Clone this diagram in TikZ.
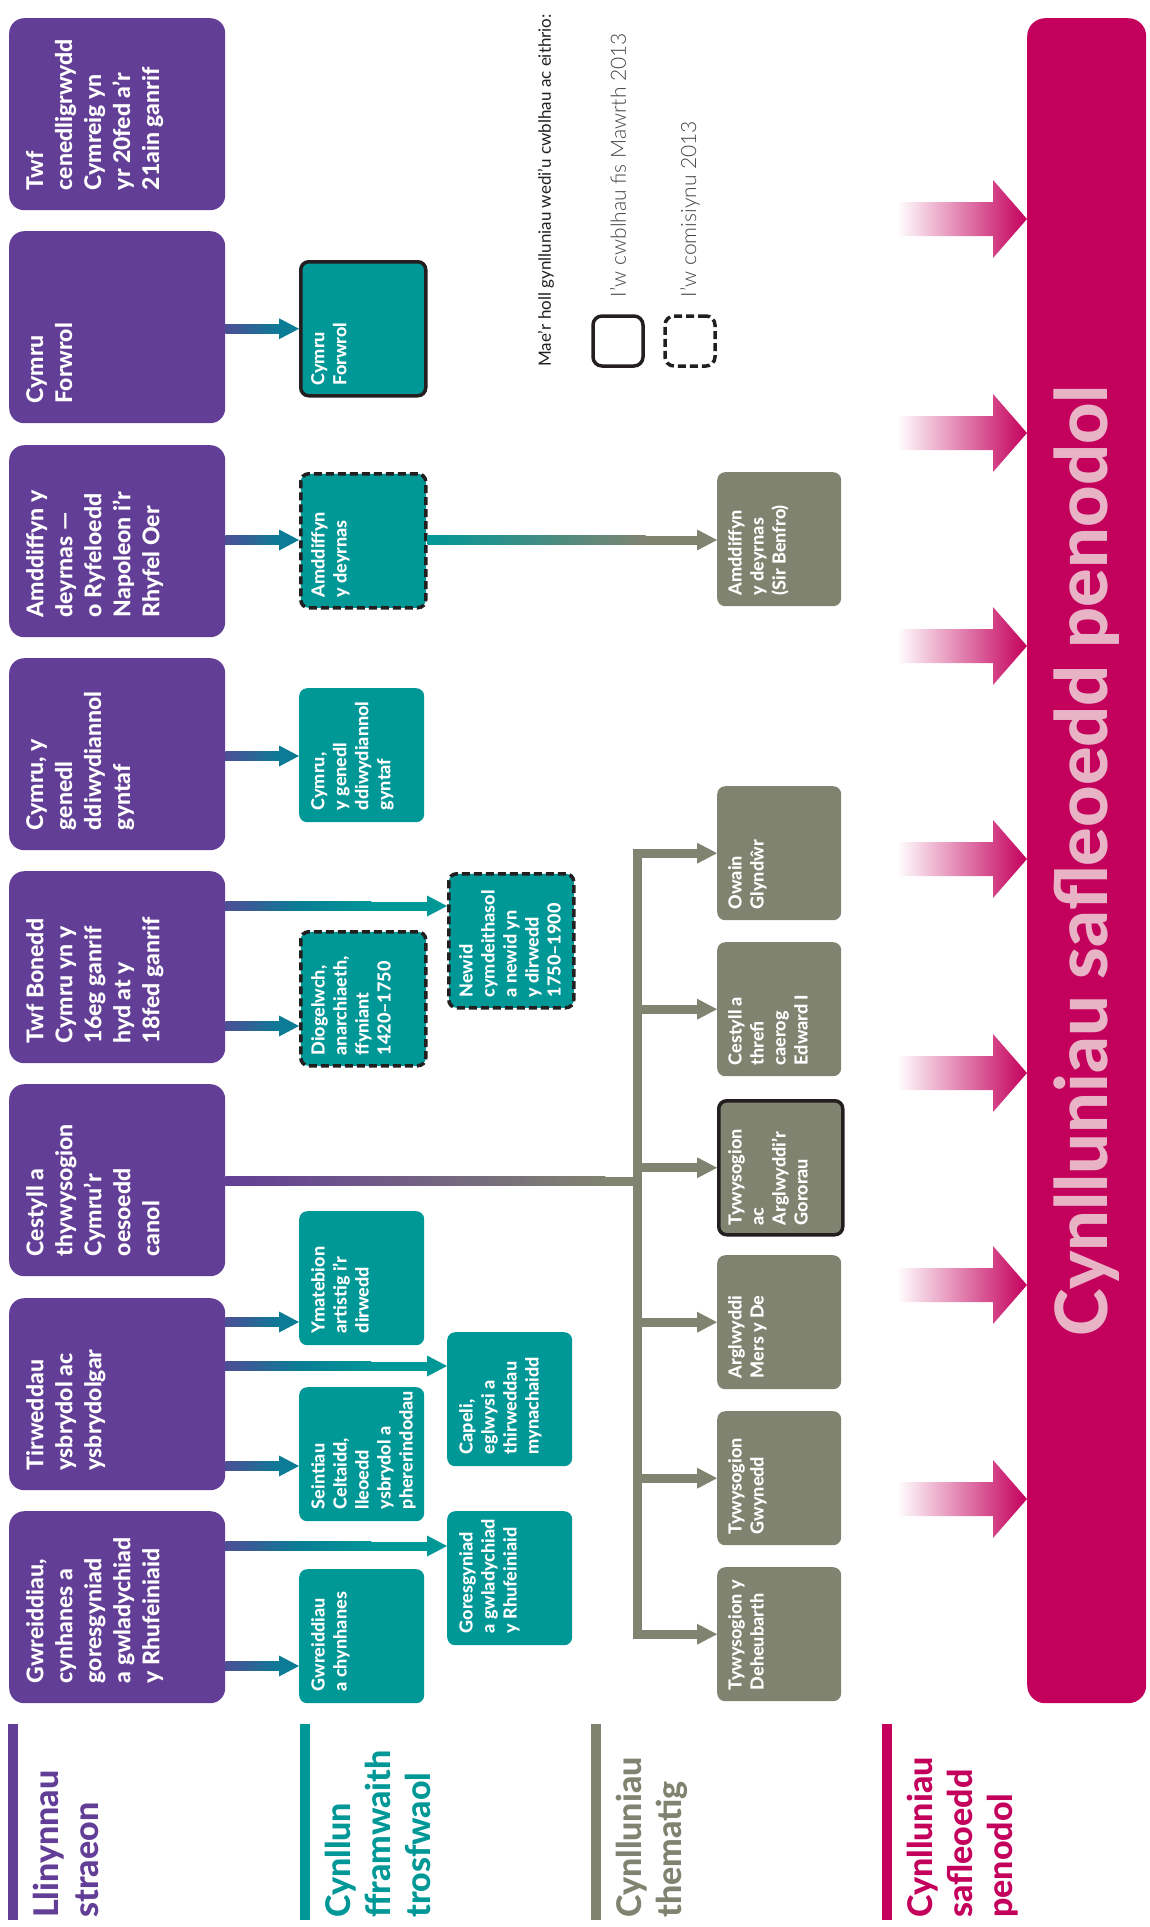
\documentclass[tikz,border=0pt]{standalone}
\usepackage{fontspec}
\setmainfont{Lato}[BoldFont={Lato Heavy}]
\newfontfamily\lightfont{Lato Light}
\usetikzlibrary{arrows.meta,calc}

\definecolor{strandcol}{HTML}{633E96}
\definecolor{framecol}{HTML}{009797}
\definecolor{linkblue}{HTML}{0B7C96}
\definecolor{themecol}{HTML}{808370}
\definecolor{sitecol}{HTML}{C4005D}
\definecolor{sitepale}{HTML}{E9B3C6}
\definecolor{ink}{HTML}{231F20}

\tikzset{
	storybox/.style={fill=strandcol, rounded corners=15pt, inner sep=0pt, minimum width=216pt, minimum height=192pt, anchor=north west},
	framebox/.style={fill=framecol, rounded corners=8pt, inner sep=0pt, minimum width=125pt, minimum height=134pt, anchor=north west},
	themebox/.style={fill=themecol, rounded corners=8pt, inner sep=0pt, minimum width=124pt, minimum height=134pt, anchor=north west},
	plainbox/.style={},
	donebox/.style={draw=ink, line width=3.5pt},
	todobox/.style={draw=ink, line width=3.5pt, dash pattern=on 8pt off 4pt},
	boxtext/.style={rotate=90, anchor=north west, align=left, inner sep=0pt, text=white, font=\bfseries\fontsize{18}{22}\selectfont},
	storytext/.style={boxtext, font=\bfseries\fontsize{23}{29}\selectfont},
	keytext/.style={rotate=90, anchor=north west, align=left, inner sep=0pt, font=\bfseries\fontsize{34}{40}\selectfont},
	headtip/.style={-{Triangle[length=20pt,width=21pt,line width=0pt]}},
	shortfade/.style={left color=strandcol!75!linkblue, right color=linkblue},
	longfade/.style={left color=strandcol!75!linkblue, right color=framecol, middle color=linkblue},
	themefade/.style={left color=framecol, right color=themecol},
}

\newcommand{\fadelink}[5]{%
	\draw[line width=9pt, #5, headtip] (#1) -- (#2);
	\shade[#4] ($(#1)+(0,-4.5)$) rectangle ($(#1)+(#3,4.5)$);
}

\begin{document}
\begin{tikzpicture}[x=1pt, y=-1pt]
	\useasboundingbox (0,0) rectangle (1149,1927);

	% story strands
	\foreach \n/\y/\txt in {p1/18/{Twf\\cenedligrwydd\\Cymreig yn\\yr 20fed a’r\\21ain ganrif},
			p2/231/{Cymru\\Forwrol},
			p3/445/{Amddiffyn y\\deyrnas —\\o Ryfeloedd\\Napoleon i’r\\Rhyfel Oer},
			p4/658/{Cymru, y\\genedl\\ddiwydiannol\\gyntaf},
			p5/871/{Twf Bonedd\\Cymru yn y\\16eg ganrif\\hyd at y\\18fed ganrif},
			p6/1084/{Cestyll a\\thywysogion\\Cymru’r\\oesoedd\\canol},
			p7/1298/{Tirweddau\\ysbrydol ac\\ysbrydolgar},
			p8/1511/{Gwreiddiau,\\cynhanes a\\goresgyniad\\a gwladychiad\\y Rhufeiniaid}}{
		\node[storybox] (\n) at (9,\y) {};
		\node[storytext] (\n-txt) at ([xshift=17pt,yshift=20pt]\n.south west) {\txt};
	}

	% overarching framework
	\foreach \n/\x/\y/\s/\txt in {t1/299/260/donebox/{Cymru\\Forwrol},
			t2/299/472/todobox/{Amddiffyn\\y deyrnas},
			t3/299/688/plainbox/{Cymru,\\y genedl\\ddiwydiannol\\gyntaf},
			t4/299/930/todobox/{Diogelwch,\\anarchiaeth,\\ffyniant\\1420–1750},
			t5/447/872/todobox/{Newid\\cymdeithasol\\a newid yn\\y dirwedd\\1750–1900},
			t6/299/1211/plainbox/{Ymatebion\\artistig i’r\\dirwedd},
			t7/447/1332/plainbox/{Capeli,\\eglwysi a\\thirweddau\\mynachaidd},
			t8/299/1387/plainbox/{Seintiau\\Celtaidd,\\lleoedd\\ysbrydol a\\phererindodau},
			t9/447/1511/plainbox/{Goresgyniad\\a gwladychiad\\y Rhufeiniaid},
			t10/299/1569/plainbox/{Gwreiddiau\\a chynhanes}}{
		\node[framebox,\s] (\n) at (\x,\y) {};
		\node[boxtext] (\n-txt) at ([xshift=12pt,yshift=12pt]\n.south west) {\txt};
	}

	% thematic plans
	\foreach \n/\y/\s/\txt in {g0/472/plainbox/{Amddiffyn\\y deyrnas\\(Sir Benfro)},
			g1/786/plainbox/{Owain\\Glyndŵr},
			g2/942/plainbox/{Cestyll a\\threfi\\caerog\\Edward I},
			g3/1099/donebox/{Tywysogion\\ac\\Arglwyddi’r\\Gororau},
			g4/1255/plainbox/{Arglwyddi\\Mers y De},
			g5/1411/plainbox/{Tywysogion\\Gwynedd},
			g6/1567/plainbox/{Tywysogion y\\Deheubarth}}{
		\node[themebox,\s] (\n) at (717,\y) {};
		\node[boxtext] (\n-txt) at ([xshift=11pt,yshift=11pt]\n.south west) {\txt};
	}

	% site plans
	\node[fill=sitecol, rounded corners=18pt, inner sep=0pt, minimum width=119pt, minimum height=1685pt, anchor=north west] (site) at (1027,18) {};
	\node[rotate=90, text=sitepale, inner sep=0pt, font=\bfseries\fontsize{72}{80}\selectfont] (site-txt) at (site.center) {Cynlluniau safleoedd penodol};
	\foreach \y in {219,433,646,859,1073,1285,1499}
		\shade[left color=white, right color=sitecol] (site.west |- 0,\y) -- ++(-34,-39) -- ++(0,22) -- ++(-96,0) -- ++(0,34) -- ++(96,0) -- ++(0,22) -- cycle;

	% links
	\fadelink{p2.east |- t1.west}{t1.west}{54}{shortfade}{draw=linkblue}
	\fadelink{p3.east |- 0,540}{t2.west |- 0,540}{54}{shortfade}{draw=linkblue}
	\fadelink{p4.east |- 0,756}{t3.west |- 0,756}{54}{shortfade}{draw=linkblue}
	\fadelink{p5.east |- 0,906}{t5.west |- 0,906}{146}{longfade}{draw=framecol}
	\fadelink{p5.east |- 0,1026}{t4.west |- 0,1026}{54}{shortfade}{draw=linkblue}
	\fadelink{p7.east |- 0,1322}{t6.west |- 0,1322}{54}{shortfade}{draw=linkblue}
	\fadelink{p7.east |- 0,1366}{t7.west |- 0,1366}{146}{longfade}{draw=framecol}
	\fadelink{p7.east |- 0,1466}{t8.west |- 0,1466}{54}{shortfade}{draw=linkblue}
	\fadelink{p8.east |- 0,1546}{t9.west |- 0,1546}{146}{longfade}{draw=framecol}
	\fadelink{p8.east |- 0,1666}{t10.west |- 0,1666}{54}{shortfade}{draw=linkblue}
	\fadelink{t2.east |- 0,540}{g0.west |- 0,540}{218}{themefade}{draw=themecol}

	\coordinate (trunk) at (637,1181);
	\draw[line width=9pt, draw=themecol] (p6.east |- trunk) -- (trunk);
	\shade[left color=strandcol, right color=themecol] ($(p6.east |- trunk)+(0,-4.5)$) rectangle ($(p6.east |- trunk)+(380,4.5)$);
	\draw[line width=9pt, draw=themecol, line cap=rect] (trunk |- g1.west) -- (trunk |- g6.west);
	\foreach \g in {g1,g2,g3,g4,g5,g6}
		\draw[line width=9pt, draw=themecol, headtip] (trunk |- \g.west) -- (\g.west);

	% key
	\node[rotate=90, anchor=west, inner sep=0pt, text=ink, font=\fontsize{17}{20}\selectfont] (keynote) at (546,367) {Mae’r holl gynlluniau wedi’u cwblhau ac eithrio:};
	\node[donebox, rounded corners=9pt, minimum size=50pt] (keydone) at (618,341) {};
	\node[todobox, rounded corners=9pt, minimum size=50pt] (keytodo) at (690,341) {};
	\node[rotate=90, anchor=west, inner sep=0pt, text=ink!85, font=\lightfont\fontsize{21}{25}\selectfont] (keydone-txt) at ([yshift=17pt]keydone.north) {I’w cwblhau fis Mawrth 2013};
	\node[rotate=90, anchor=west, inner sep=0pt, text=ink!85, font=\lightfont\fontsize{21}{25}\selectfont] (keytodo-txt) at ([yshift=17pt]keytodo.north) {I’w comisiynu 2013};

	\foreach \x/\c/\txt [count=\i] in {8/strandcol/{Llinynnau\\straeon},
			300/framecol/{Cynllun\\fframwaith\\trosfwaol},
			591/themecol/{Cynlluniau\\thematig},
			882/sitecol/{Cynlluniau\\safleoedd\\penodol}}{
		\fill[\c] (\x,1724) rectangle ++(10,196);
		\node[keytext, text=\c] (key\i) at (\x+25,1918) {\txt};
	}
\end{tikzpicture}
\end{document}
